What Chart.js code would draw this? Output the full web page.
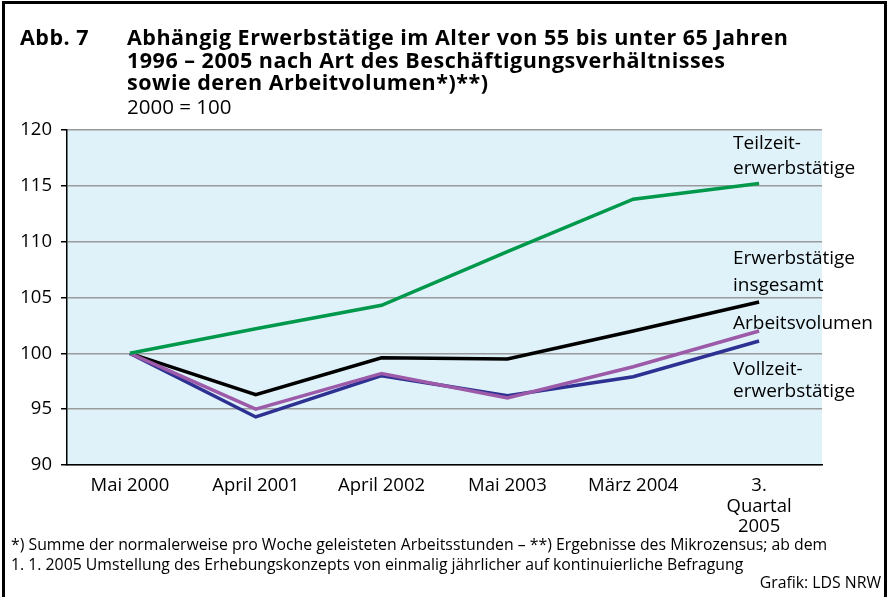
<!DOCTYPE html>
<html>
<head>
<meta charset="utf-8">
<script src="https://cdn.jsdelivr.net/npm/chart.js@4.4.1/dist/chart.umd.min.js"></script>
<style>
  html, body { margin: 0; padding: 0; background: #fff; }
  #frame {
    position: relative; width: 890px; height: 597px; overflow: hidden;
    font-family: "Open Sans", sans-serif; color: #000;
  }
  #box {
    position: absolute; left: 2px; top: 1px; width: 885px; height: 596px;
    border: 3px solid #000; border-bottom: none; box-sizing: border-box;
  }
  #chartWrap { position: absolute; left: 0; top: 0; width: 890px; height: 597px; }
  .t { position: absolute; white-space: nowrap; }
  .title { font-weight: bold; font-size: 21.5px; line-height: 22.5px; letter-spacing: 0.5px; }
  .sub { font-size: 20.5px; }
  .foot { font-size: 15.8px; line-height: 20px; }
</style>
</head>
<body>
<div id="frame">
  <div id="chartWrap"><canvas id="chart" width="890" height="597"></canvas></div>
  <div id="box"></div>
  <div class="t title" style="left:20px; top:26px;">Abb. 7</div>
  <div class="t title" style="left:127px; top:26px;">Abhängig Erwerbstätige im Alter von 55 bis unter 65 Jahren<br>1996 – 2005 nach Art des Beschäftigungsverhältnisses<br>sowie deren Arbeitvolumen*)**)</div>
  <div class="t sub" style="left:127px; top:92px;">2000 = 100</div>
  <div class="t foot" style="left:11px; top:534px;">*) Summe der normalerweise pro Woche geleisteten Arbeitsstunden – **) Ergebnisse des Mikrozensus; ab dem<br>1. 1. 2005 Umstellung des Erhebungskonzepts von einmalig jährlicher auf kontinuierliche Befragung</div>
  <div class="t foot" style="right:9px; top:572px;">Grafik: LDS NRW</div>
</div>
<script>
const categories = ["Mai 2000", "April 2001", "April 2002", "Mai 2003", "März 2004", ["3.", "Quartal", "2005"]];
const teilzeit = [100, 102.2, 104.3, 109.1, 113.8, 115.2];
const insgesamt = [100, 96.3, 99.6, 99.5, 102.0, 104.6];
const vollzeit = [100, 94.3, 98.0, 96.2, 97.9, 101.1];
const arbeitsvolumen = [100, 95.0, 98.2, 96.0, 98.8, 102.0];
const yTicks = [90, 95, 100, 105, 110, 115, 120];

const lineLabels = [
  { text: "Teilzeit-", value: 118.8 },
  { text: "erwerbstätige", value: 116.5 },
  { text: "Erwerbstätige", value: 108.5 },
  { text: "insgesamt", value: 106.1 },
  { text: "Arbeitsvolumen", value: 102.7 },
  { text: "Vollzeit-", value: 98.5 },
  { text: "erwerbstätige", value: 96.6 }
];

const plotBackground = {
  id: "plotBackground",
  beforeDraw: function (chart) {
    const area = chart.chartArea;
    const ctx = chart.ctx;
    ctx.save();
    ctx.fillStyle = "#dff2fa";
    ctx.fillRect(area.left, area.top, area.right - area.left, area.bottom - area.top);
    ctx.restore();
  },
  afterDatasetsDraw: function (chart) {
    const ctx = chart.ctx;
    const y = chart.scales.y;
    ctx.save();
    ctx.font = "19px 'Open Sans', sans-serif";
    ctx.fillStyle = "#000";
    ctx.textBaseline = "middle";
    lineLabels.forEach(function (label) {
      ctx.fillText(label.text, 733, y.getPixelForValue(label.value));
    });
    ctx.restore();
  }
};

function series(label, data, color) {
  return {
    label: label,
    data: data,
    borderColor: color,
    backgroundColor: color,
    borderWidth: 3.5,
    pointRadius: 0,
    tension: 0
  };
}

new Chart(document.getElementById("chart"), {
  type: "line",
  data: {
    labels: categories,
    datasets: [
      series("Teilzeiterwerbstätige", teilzeit, "#00994c"),
      series("Arbeitsvolumen", arbeitsvolumen, "#9c5aa8"),
      series("Vollzeiterwerbstätige", vollzeit, "#2e3192"),
      series("Erwerbstätige insgesamt", insgesamt, "#000000")
    ]
  },
  options: {
    responsive: false,
    animation: false,
    layout: { padding: { left: 0, top: 130, right: 68, bottom: 0 } },
    plugins: { legend: { display: false }, tooltip: { enabled: false } },
    scales: {
      x: {
        offset: true,
        grid: { display: false, offset: true },
        border: { display: true, color: "#000", width: 1.5 },
        ticks: {
          color: "#000",
          font: { family: "'Open Sans', sans-serif", size: 18.5, lineHeight: 1.1 },
          maxRotation: 0,
          autoSkip: false,
          padding: 3
        },
        afterFit: function (scale) { scale.height = 597 - 465; }
      },
      y: {
        min: 90,
        max: 120,
        afterBuildTicks: function (scale) {
          scale.ticks = yTicks.map(function (v) { return { value: v }; });
        },
        grid: {
          color: "#9a9a9a",
          lineWidth: 1.5,
          tickLength: 6,
          tickColor: "#000"
        },
        border: { display: true, color: "#000", width: 1.5 },
        ticks: {
          color: "#000",
          font: { family: "'Open Sans', sans-serif", size: 18.5 },
          padding: 9
        },
        afterFit: function (scale) { scale.width = 67; }
      }
    }
  },
  plugins: [plotBackground]
});
</script>
</body>
</html>
